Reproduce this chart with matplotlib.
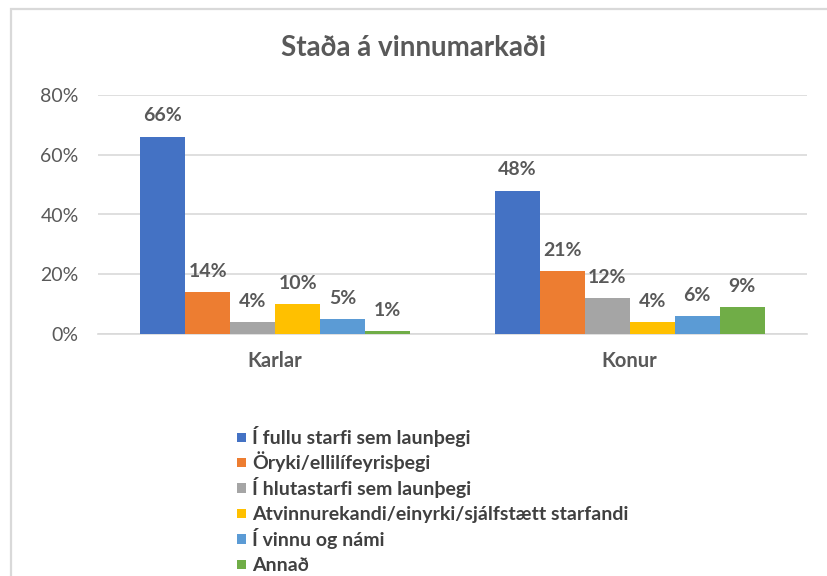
import matplotlib.pyplot as plt
import numpy as np
from matplotlib.patches import Rectangle

plt.rcParams['font.family'] = ['Lato', 'DejaVu Sans']

# data
groups = ['Karlar', 'Konur']
series = ['Í fullu starfi sem launþegi',
          'Öryki/ellilífeyrisþegi',
          'Í hlutastarfi sem launþegi',
          'Atvinnurekandi/einyrki/sjálfstætt starfandi',
          'Í vinnu og námi',
          'Annað']
karlar = [66, 14, 4, 10, 5, 1]
konur = [48, 21, 12, 4, 6, 9]
colors = ['#4472C4', '#ED7D31', '#A5A5A5', '#FFC000', '#5B9BD5', '#70AD47']

txt = '#595959'
W, H = 828, 576

fig = plt.figure(figsize=(8.28, 5.76), dpi=100)
ax = fig.add_axes([98 / W, 1 - 334 / H, 709 / W, 239 / H])

x = np.arange(len(groups))
w = 0.127
vals = np.array([karlar, konur]).T
for i, (name, v, c) in enumerate(zip(series, vals, colors)):
    pos = x + (i - 2.5) * w
    ax.bar(pos, v, width=w, color=c, label=name, zorder=3)
    for p, val in zip(pos, v):
        ax.annotate(f'{val}%', (p, val), xytext=(0, 9), textcoords='offset points',
                    ha='center', va='bottom', fontsize=14, fontweight='bold', color=txt)

ax.set_xlim(-0.5, 1.5)
ax.set_ylim(0, 80)
ax.set_yticks([0, 20, 40, 60, 80])
ax.set_yticklabels(['0%', '20%', '40%', '60%', '80%'], fontsize=14, color=txt)
ax.set_xticks(x)
ax.set_xticklabels(groups, fontsize=14.5, fontweight='bold', color=txt)
ax.tick_params(axis='both', length=0)
ax.tick_params(axis='x', pad=12)
ax.tick_params(axis='y', pad=14)
ax.grid(axis='y', color='#D9D9D9', linewidth=1.2, zorder=0)
for s in ['top', 'right', 'left']:
    ax.spines[s].set_visible(False)
ax.spines['bottom'].set_color('#D9D9D9')
ax.spines['bottom'].set_linewidth(1.2)

fig.text(414 / W, 1 - 48 / H, 'Staða á vinnumarkaði', ha='center', va='center',
         fontsize=20, fontweight='bold', color=txt)

# legend, one row per series, evenly spaced
for i, (name, c) in enumerate(zip(series, colors)):
    yc = 437 + i * 25.4
    fig.patches.append(Rectangle((237 / W, 1 - (yc + 5) / H), 9.5 / W, 9.5 / H,
                                 transform=fig.transFigure, facecolor=c, edgecolor='none'))
    fig.text(252 / W, 1 - (yc + 7) / H, name, ha='left', va='baseline',
             fontsize=14, fontweight='bold', color='#404040')

fig.patches.append(Rectangle((11 / W, -0.05), 1.0, 1 - 9 / H + 0.05,
                             transform=fig.transFigure, fill=False,
                             edgecolor='#D9D9D9', linewidth=1.6))

fig.savefig('out.png', dpi=100)
